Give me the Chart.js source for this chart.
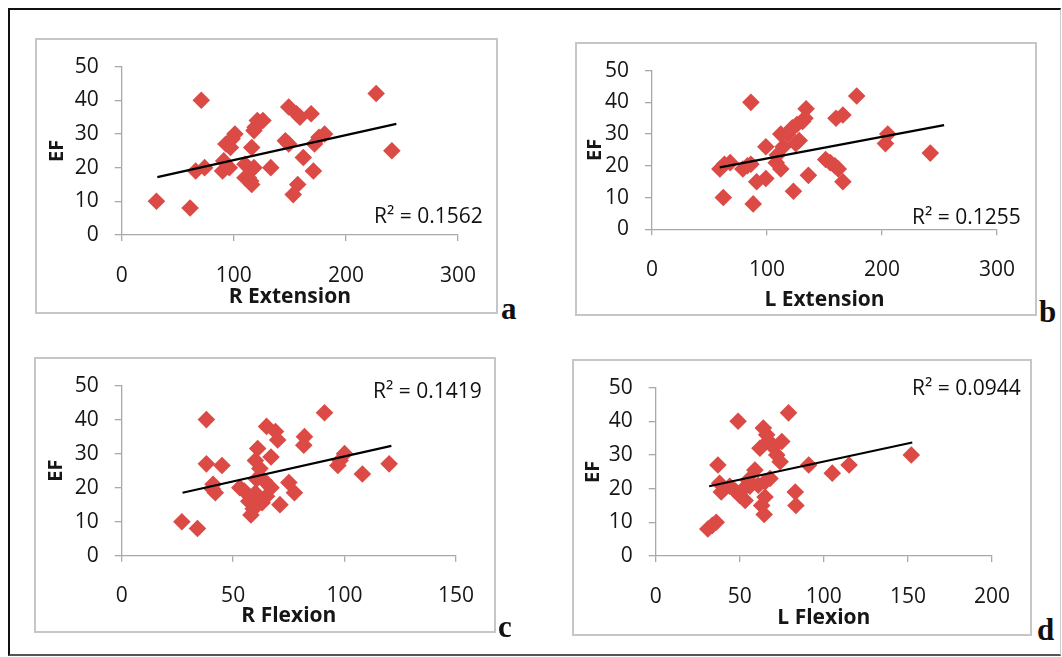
<!DOCTYPE html>
<html><head><meta charset="utf-8">
<script src="https://cdn.jsdelivr.net/npm/chart.js@4.4.0/dist/chart.umd.min.js"></script>
<style>
body{margin:0;background:#fff;width:1062px;height:657px;position:relative;overflow:hidden;font-family:'Open Sans',sans-serif;}
.frame{position:absolute;left:8px;top:8px;width:1053px;height:648px;border-left:2px solid #111;border-top:2px solid #111;border-bottom:2px solid #555;border-right:1px solid #ccc;box-sizing:border-box}
.panel{position:absolute}
.panel canvas{position:absolute;left:0;top:0}
.box{position:absolute;left:0;top:0;right:0;bottom:0;border:2px solid #c6c6c6;box-sizing:border-box;pointer-events:none}
.r2{position:absolute;font-size:21px;color:#111;white-space:nowrap;line-height:24px;height:24px}
.lab{position:absolute;font-family:'Liberation Serif',serif;font-weight:bold;font-size:31px;line-height:31px;color:#111}
</style></head>
<body>
<div class="frame"></div>
<script>
// ---------- data ----------
const rExtX  = [31,61,71,66,74,90,91,96,93,97,101,98.5,110,113,116,118,116,119,121,126,118,133,146,149,149,156,159,169,153,157,162,171,172,181,176,227,241,115,110];
const rExtEF = [10,8,40,19,20,19,22,20,27,26,30,28.6,21,17,15,20,26,32,34,34,31,20,28,27,38,36,35,36,12,15,23,19,27,30,29,42,25,16,17];

const lExtX  = [62,88,86,59,63,68,79,83,86,91,99,99,108,112,114,112,118,122,126,131,134,128,125,123,136,151,155,159,162,166,160,166,178,203,205,242,109,133];
const lExtEF = [10,8,40,19,20.5,21,19,20,20.5,15,16,26,21,19,26,30,30,32,33,34,38,28,27,12,17,22,21,20,19,15,35,36,42,27,30,24,23.4,35];

const rFlexX  = [27,34,38,38,45,41,42,40.6,53,55,57,58,60.5,63,60,61,60,62,60.5,67,64,67,65,69,70,71,75,77.5,82,81.7,91,97,100,98,108,120,59,65];
const rFlexEF = [10,8,40,27,26.5,21,18.5,19.7,20,19,16,12,14.7,15.6,18.4,31.5,28,25.6,22.5,20,22,29,38,36.5,34,15,21.5,18.5,35,32.5,42,26.5,30,28,24,27,13.8,17.5];

const lFlexX  = [31,36,33.7,49,37,38,39,44,47.4,50,53.2,52,56,59,62,65,63,64.5,65,64,66,67,75,72,74,79,83,83.4,91,105,115,152,70,61,68,55];
const lFlexEF = [8,10,9.1,40,27,21.6,19,20.7,19.3,18,16.5,19.8,20.7,25.5,32,17.5,15,12.3,22,38,36,34.2,34,30,28,42.5,19,15,27,24.6,27,30,32.3,21,23,22.5];

// linear trend lines (end points)
const trendRExtX = [31.8, 245];   const trendRExtY = [17.2, 33.0];
const trendLExtX = [58.9, 254];   const trendLExtY = [19.5, 32.8];
const trendRFlexX = [27.3, 121];  const trendRFlexY = [18.5, 32.3];
const trendLFlexX = [31.8, 152.6];const trendLFlexY = [20.7, 33.7];

const efTicks = [0,10,20,30,40,50];
const extTicks = [0,100,200,300];
const rFlexTicks = [0,50,100,150];
const lFlexTicks = [0,50,100,150,200];

const r2Labels = ['R\u00B2 = 0.1562','R\u00B2 = 0.1255','R\u00B2 = 0.1419','R\u00B2 = 0.0944'];
const xTitles = ['R Extension','L Extension','R Flexion','L Flexion'];
const panelLetters = ['a','b','c','d'];

// ---------- layout ----------
Chart.defaults.font.family = "'Open Sans', sans-serif";
Chart.defaults.color = '#161616';
const AXIS = '#a9a9a9';
const RED = '#dc4a46';

const panels = [
  {box:[35,38,498,314],  area:[121.7,53.3,461.6,235], xs:rExtX, ys:rExtEF, tx:trendRExtX, ty:trendRExtY, xt:extTicks,
   xPadB:4.4, yPadT:10, r2:[374,215], let:[501,317]},
  {box:[575,42,1037,316], area:[652,56,1001,229.3], xs:lExtX, ys:lExtEF, tx:trendLExtX, ty:trendLExtY, xt:extTicks,
   xPadB:3.4, yPadT:8.4, r2:[912,216], let:[1039,320]},
  {box:[34,357,496,633], area:[121.7,372.3,460.3,555.7], xs:rFlexX, ys:rFlexEF, tx:trendRFlexX, ty:trendRFlexY, xt:rFlexTicks,
   xPadB:4.4, yPadT:10, r2:[373,390], let:[498,635]},
  {box:[572,359,1032,636], area:[655.7,376.7,998,556], xs:lFlexX, ys:lFlexEF, tx:trendLFlexX, ty:trendLFlexY, xt:lFlexTicks,
   xPadB:5.1, yPadT:9.7, r2:[912,387], let:[1037,638]}
];

panels.forEach((p, i) => {
  const [bl, bt, br, bb] = p.box;
  const W = br - bl, H = bb - bt;
  const leftW = p.area[0] - bl;
  const topP = p.area[1] - bt;
  const rightP = br - p.area[2];
  const bottomH = bb - p.area[3];

  const div = document.createElement('div');
  div.className = 'panel';
  div.style.left = bl + 'px'; div.style.top = bt + 'px';
  div.style.width = W + 'px'; div.style.height = H + 'px';
  const cv = document.createElement('canvas');
  cv.width = W; cv.height = H;
  cv.style.width = W + 'px'; cv.style.height = H + 'px';
  div.appendChild(cv);
  const bx = document.createElement('div'); bx.className = 'box'; div.appendChild(bx);
  document.body.appendChild(div);

  const pts = p.xs.map((x, k) => ({x, y: p.ys[k]}));
  const trend = p.tx.map((x, k) => ({x, y: p.ty[k]}));
  const xt = p.xt;

  new Chart(cv, {
    type: 'scatter',
    data: {
      datasets: [
        {data: pts, pointStyle: 'rectRot', pointRadius: 8.8, pointHoverRadius: 8.8,
         backgroundColor: RED, borderColor: RED, borderWidth: 0, order: 2},
        {type: 'line', data: trend, borderColor: '#000', borderWidth: 2.2, pointRadius: 0,
         fill: false, tension: 0, order: 1}
      ]
    },
    options: {
      responsive: false, animation: false, devicePixelRatio: 1,
      layout: {padding: {left: 0, top: topP, right: rightP, bottom: 0}},
      plugins: {legend: {display: false}, tooltip: {enabled: false}},
      scales: {
        x: {
          type: 'linear', min: xt[0], max: xt[xt.length - 1],
          afterBuildTicks: s => { s.ticks = xt.map(v => ({value: v})); },
          afterFit: s => { s.height = bottomH; },
          grid: {display: true, drawOnChartArea: false, drawTicks: true, tickLength: 6, color: AXIS, lineWidth: 1.3},
          border: {display: true, color: AXIS, width: 1.3},
          ticks: {font: {size: 21}, padding: 22, maxRotation: 0, autoSkip: false},
          title: {display: true, text: xTitles[i], font: {size: 21, weight: 'bold'}, padding: {top: 0, bottom: p.xPadB}}
        },
        y: {
          type: 'linear', min: efTicks[0], max: efTicks[efTicks.length - 1],
          afterBuildTicks: s => { s.ticks = efTicks.map(v => ({value: v})); },
          afterFit: s => { s.width = leftW; },
          grid: {display: true, drawOnChartArea: false, drawTicks: true, tickLength: 7, color: AXIS, lineWidth: 1.3},
          border: {display: true, color: AXIS, width: 1.3},
          ticks: {font: {size: 21}, padding: 16, autoSkip: false},
          title: {display: true, text: 'EF', font: {size: 20, weight: 'bold'}, padding: {top: p.yPadT, bottom: 0}}
        }
      }
    }
  });

  const r = document.createElement('div');
  r.className = 'r2'; r.textContent = r2Labels[i];
  r.style.left = p.r2[0] + 'px'; r.style.top = (p.r2[1] - 12) + 'px';
  document.body.appendChild(r);

  const l = document.createElement('div');
  l.className = 'lab'; l.textContent = panelLetters[i];
  l.style.left = p.let[0] + 'px'; l.style.top = (p.let[1] - 24) + 'px';
  document.body.appendChild(l);
});
</script>
</body></html>
